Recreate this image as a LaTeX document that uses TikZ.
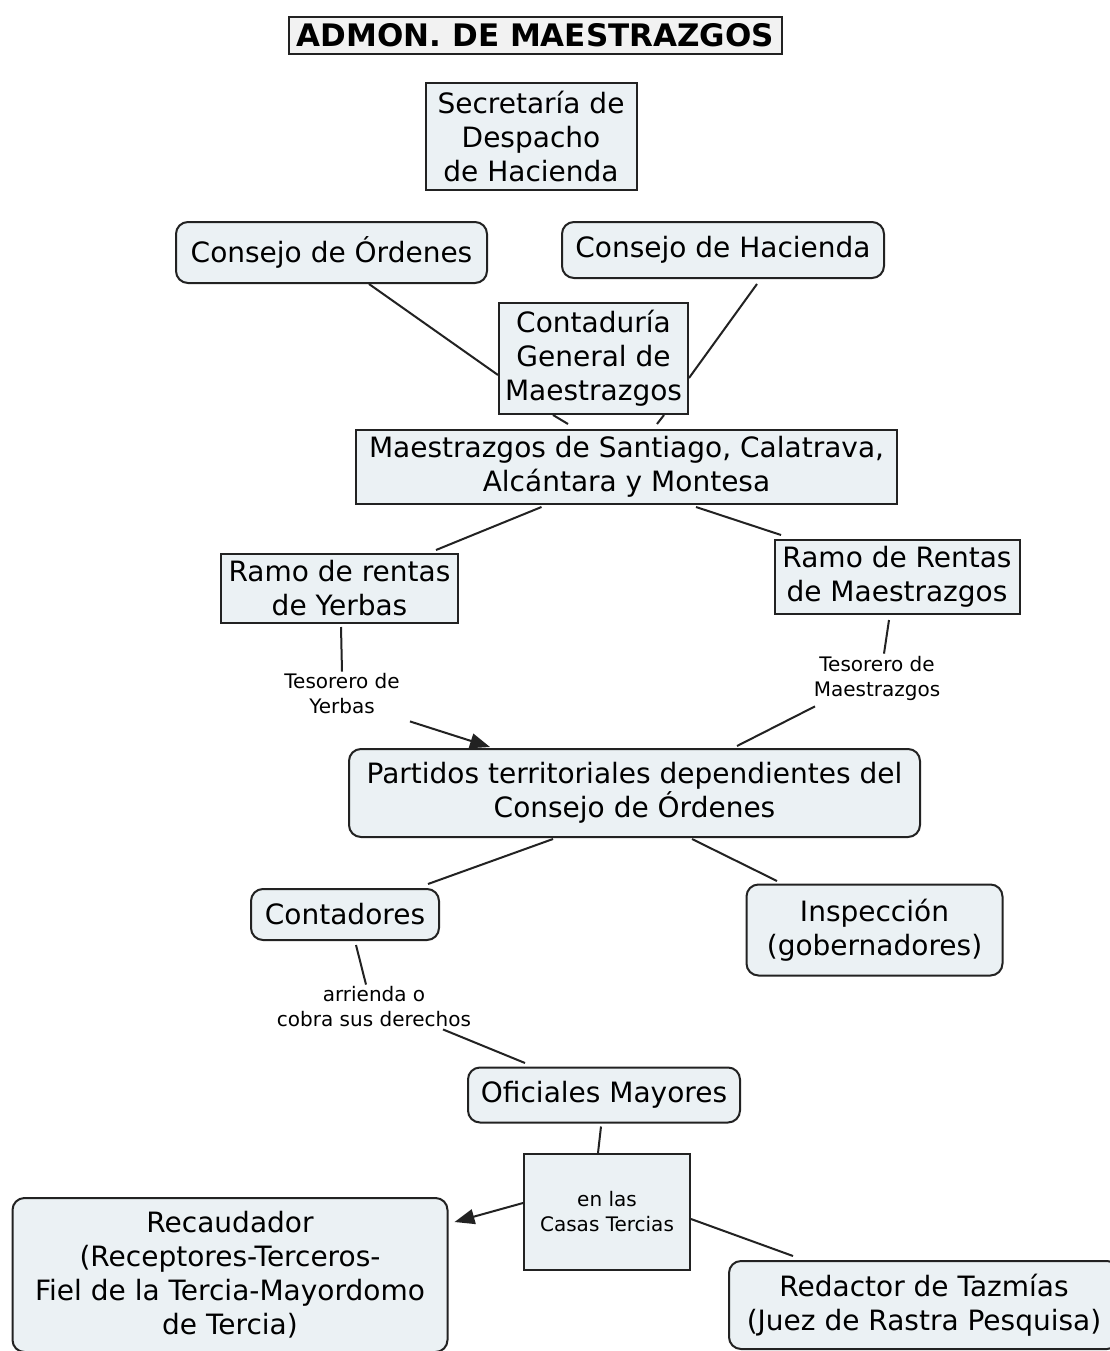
\documentclass[tikz,border=0pt]{standalone}
\usepackage{fontspec}
\setmainfont{DejaVu Sans}
\usetikzlibrary{arrows.meta}
\definecolor{conceptfill}{HTML}{EBF1F4}
\definecolor{titlefill}{HTML}{F2F2F2}
\definecolor{edgeline}{HTML}{222222}
\tikzset{
  concept/.style={draw=edgeline, fill=conceptfill, line width=2pt, inner sep=0pt,
                  align=center, font=\fontsize{28}{34}\selectfont},
  roundconcept/.style={concept, rounded corners=12pt},
  linkbox/.style={concept, font=\fontsize{20}{25}\selectfont},
  linklabel/.style={inner sep=2pt, align=center, font=\fontsize{20}{25}\selectfont},
  titlebox/.style={concept, fill=titlefill, font=\bfseries\fontsize{31}{37}\selectfont},
  conn/.style={line width=2pt, draw=edgeline},
  connarrow/.style={conn, -{Triangle[length=20pt, width=15pt]}},
}

\begin{document}
\begin{tikzpicture}[x=1pt, y=-1pt]
    \clip (0,0) rectangle (1110,1351);
    \fill[white] (0,0) rectangle (1110,1351);
    \node[titlebox, minimum width=493pt, minimum height=37pt] (title) at (535.5,35.5) {ADMON. DE MAESTRAZGOS};
    \node[concept, minimum width=211pt, minimum height=107pt] (sec) at (531,136.5) {Secretaría de\\Despacho\\de Hacienda};
    \node[roundconcept, minimum width=311pt, minimum height=61pt] (ordenes) at (331.5,252.5) {Consejo de Órdenes};
    \node[roundconcept, minimum width=322pt, minimum height=56pt] (hacienda) at (723,250) {Consejo de Hacienda};
    \node[concept, minimum width=189pt, minimum height=111pt] (contad) at (593.5,358.5) {Contaduría\\General de\\Maestrazgos};
    \node[concept, minimum width=541pt, minimum height=74pt] (maestr) at (626.5,467) {Maestrazgos de Santiago, Calatrava,\\Alcántara y Montesa};
    \node[concept, minimum width=237pt, minimum height=69pt] (yerbas) at (339.5,588.5) {Ramo de rentas\\de Yerbas};
    \node[concept, minimum width=245pt, minimum height=74pt] (rentas) at (897,577) {Ramo de Rentas\\de Maestrazgos};
    \node[linklabel] (lblyerbas) at (342,694) {Tesorero de\\Yerbas};
    \node[linklabel] (lblrentas) at (877,678) {Tesorero de\\Maestrazgos};
    \node[roundconcept, minimum width=571pt, minimum height=88pt] (partidos) at (634.5,793) {Partidos territoriales dependientes del\\Consejo de Órdenes};
    \node[roundconcept, minimum width=188pt, minimum height=51pt] (contadores) at (345,914.5) {Contadores};
    \node[roundconcept, minimum width=256pt, minimum height=91pt] (inspec) at (874.5,930) {Inspección\\(gobernadores)};
    \node[linklabel] (lblarr) at (374,1007) {arrienda o\\cobra sus derechos};
    \node[roundconcept, minimum width=272pt, minimum height=55pt] (oficiales) at (604,1095) {Oficiales Mayores};
    \node[linkbox, minimum width=166pt, minimum height=116pt] (casas) at (607,1212) {en las\\Casas Tercias};
    \node[roundconcept, minimum width=435pt, minimum height=154pt] (recaud) at (230,1275) {Recaudador\\(Receptores-Terceros-\\Fiel de la Tercia-Mayordomo\\de Tercia)};
    \node[roundconcept, minimum width=390pt, minimum height=88pt] (redactor) at (924,1305) {Redactor de Tazmías\\(Juez de Rastra Pesquisa)};
    \draw[conn] ([xshift=37.5pt]ordenes.south) -- ([yshift=-16.5pt]contad.west);
    \draw[conn] ([xshift=34pt, yshift=-5pt]hacienda.south) -- ([yshift=-19.5pt]contad.east);
    \draw[conn] ([xshift=-40.5pt]contad.south) -- ([xshift=-58.5pt, yshift=5pt]maestr.north);
    \draw[conn] ([xshift=70.5pt]contad.south) -- ([xshift=30.5pt, yshift=5pt]maestr.north);
    \draw[conn] ([xshift=-85pt, yshift=-2pt]maestr.south) -- ([xshift=96.5pt, yshift=3pt]yerbas.north);
    \draw[conn] ([xshift=69.5pt, yshift=-2pt]maestr.south) -- ([xshift=-116pt, yshift=4pt]rentas.north);
    \draw[conn] ([xshift=1.5pt, yshift=-3pt]yerbas.south) -- (lblyerbas.north);
    \draw[connarrow] ([xshift=68pt, yshift=-5pt]lblyerbas.south) -- ([xshift=-144.5pt, yshift=1pt]partidos.north);
    \draw[conn] ([xshift=-8pt, yshift=-5pt]rentas.south) -- ([xshift=7pt]lblrentas.north);
    \draw[conn] ([xshift=-62pt, yshift=-4pt]lblrentas.south) -- ([xshift=102.5pt, yshift=2pt]partidos.north);
    \draw[conn] ([xshift=-81.5pt, yshift=-1pt]partidos.south) -- ([xshift=83pt, yshift=4pt]contadores.north);
    \draw[conn] ([xshift=57.5pt, yshift=-1pt]partidos.south) -- ([xshift=-97.5pt, yshift=2.5pt]inspec.north);
    \draw[conn] ([xshift=11pt, yshift=-4pt]contadores.south) -- ([xshift=-8pt]lblarr.north);
    \draw[conn] ([xshift=69pt]lblarr.south) -- ([xshift=-79pt, yshift=3.5pt]oficiales.north);
    \draw[conn] ([xshift=-3pt, yshift=-3pt]oficiales.south) -- ([xshift=-9pt]casas.north);
    \draw[connarrow] ([yshift=9pt]casas.west) -- ([xshift=6pt, yshift=-25pt]recaud.north east);
    \draw[conn] ([yshift=-7pt]casas.east) -- ([xshift=-131pt, yshift=4pt]redactor.north);
\end{tikzpicture}
\end{document}
